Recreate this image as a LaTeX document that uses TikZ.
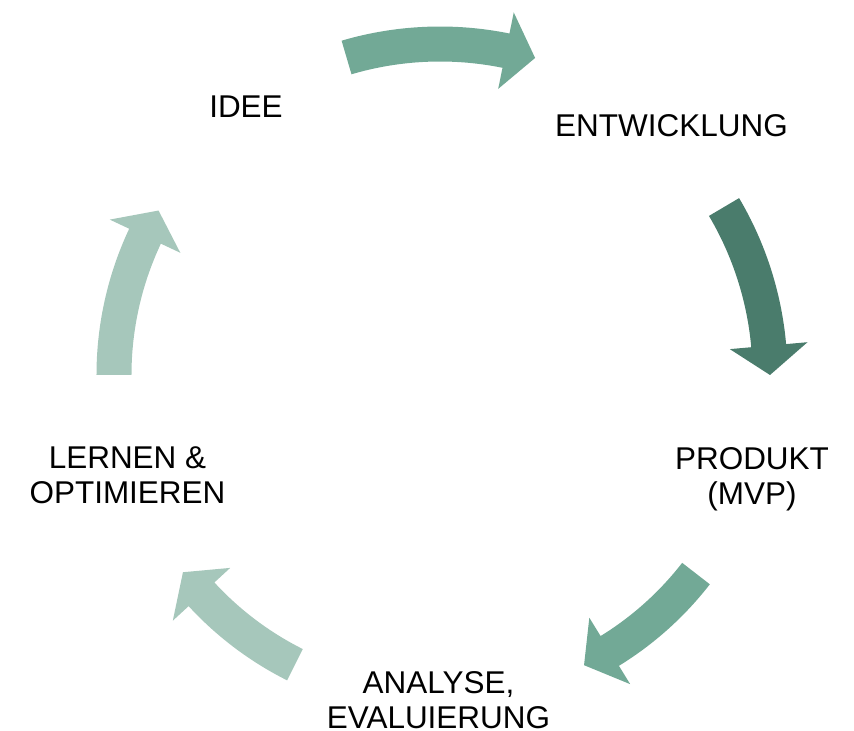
\documentclass[tikz,border=0pt]{standalone}
\usepackage{fontspec}
\setmainfont{Liberation Sans}
\usetikzlibrary{positioning,calc}

\definecolor{cyclemid}{RGB}{114,169,150}
\definecolor{cycledark}{RGB}{74,124,108}
\definecolor{cyclelight}{RGB}{166,199,187}

% curved block arrow: colour, radius, tail angle, head base angle, tip angle
\newcommand{\cyclearrow}[5]{%
  \fill[#1] ([shift={({#3}:{#2-17.5})}]mid) arc[start angle=#3, end angle=#4, radius=#2-17.5]
    -- ([shift={({#4}:{#2-39})}]mid) -- ([shift={({#5}:{#2})}]mid)
    -- ([shift={({#4}:{#2+39})}]mid) -- ([shift={({#4}:{#2+17.5})}]mid)
    arc[start angle=#4, end angle=#3, radius=#2+17.5] -- cycle;}

\begin{document}
\begin{tikzpicture}[x=0.75pt,y=0.75pt]
        % Define styles
        \tikzstyle{label} = [align=center, inner sep=0pt,
            font=\fontsize{23.6}{26.3}\selectfont]

        \useasboundingbox (-440,-356) rectangle (414,375);
        \coordinate (mid) at (0,0);

        % Nodes
        \node [label] (idea) at (-194,268.5) {IDEE};
        \node [label] (dev) at (231.5,249) {ENTWICKLUNG};
        \node [label] (product) at (312,-104) {PRODUKT\\(MVP)};
        \node [label] (analysis) at (-1.5,-325.5) {ANALYSE,\\EVALUIERUNG};
        \node [label] (learn) at (-312.5,-100) {LERNEN \&\\OPTIMIEREN};

        % Arrows
        \cyclearrow{cyclemid}{331}{106.4}{78.5}{73.3}
        \cyclearrow{cycledark}{330}{30.6}{5.1}{0}
        \cyclearrow{cyclemid}{324}{-37.8}{-58.4}{-63.6}
        \cyclearrow{cyclelight}{324}{-116.6}{-137.4}{-142.5}
        \cyclearrow{cyclelight}{326}{180}{154.8}{149.7}

    \end{tikzpicture}
\end{document}
